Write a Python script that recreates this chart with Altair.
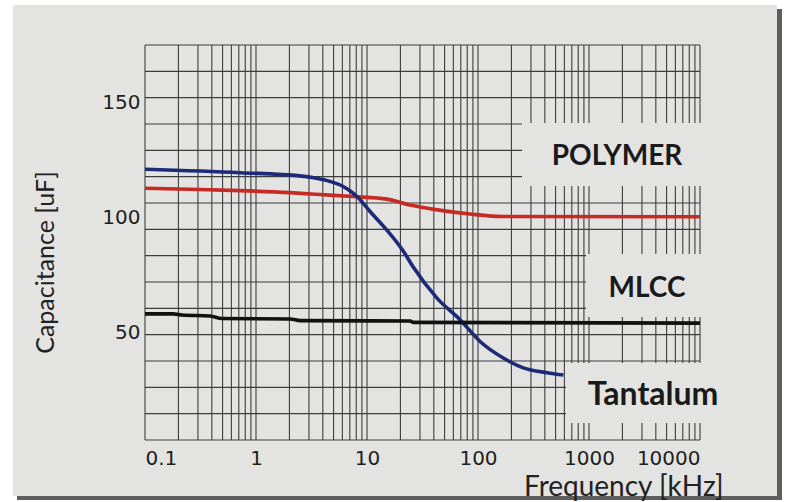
import altair as alt
import pandas as pd
import numpy as np

# ---- data ----
polymer_freq = [0.1, 0.31, 0.72, 2.03, 3.78, 7.5, 15.2, 24.5, 43, 85, 169, 10000]
polymer_cap = [112.6, 112.1, 111.6, 110.7, 109.9, 109.0, 107.9, 105.3, 103.2, 101.4, 100.3, 100.2]

tantalum_freq = [0.1, 0.72, 2.5, 3.41, 4.66, 5.98, 7.06, 8.16, 10.7, 15.1, 21.2, 26.1, 42.7, 69.2, 105, 169, 256, 419, 588]
tantalum_cap = [120.9, 119.4, 118.0, 117.1, 115.6, 113.6, 111.4, 108.9, 102.4, 94.4, 85.3, 78.3, 64.8, 55.3, 45.8, 38.7, 34.4, 32.3, 31.3]

mlcc_freq = [0.1, 0.179, 0.216, 0.385, 0.494, 2.03, 2.5, 24.5, 26.1, 10000]
mlcc_cap = [57.9, 57.9, 57.4, 57.0, 55.9, 55.7, 55.0, 54.8, 54.2, 53.9]

series_names = ["POLYMER", "Tantalum", "MLCC"]
series_colors = ["#c62a22", "#1c2a78", "#111111"]

x_ticks = [0.1, 1, 10, 100, 1000, 10000]
y_ticks = [50, 100, 150]
x_domain = [0.1, 10000]
y_domain = [3, 175]

# ---- tables ----
lines_df = pd.concat([
    pd.DataFrame({"freq": polymer_freq, "cap": polymer_cap, "series": "POLYMER"}),
    pd.DataFrame({"freq": tantalum_freq, "cap": tantalum_cap, "series": "Tantalum"}),
    pd.DataFrame({"freq": mlcc_freq, "cap": mlcc_cap, "series": "MLCC"}),
], ignore_index=True)

vgrid = [d * k for d in [0.1, 1, 10, 100, 1000] for k in range(1, 10)] + [10000]
hgrid = list(np.linspace(y_domain[0], y_domain[1], 16))
vgrid_df = pd.DataFrame({"freq": vgrid})
hgrid_df = pd.DataFrame({"cap": hgrid})
one = pd.DataFrame({"a": [0]})

PAPER = "#e3e3e1"
GRID = "#3d3d3d"

xs = alt.Scale(type="log", domain=x_domain, nice=False)
ys = alt.Scale(domain=y_domain, nice=False, zero=False)

x_axis = alt.Axis(values=x_ticks, format="~g", domain=False, ticks=False, grid=False,
                  labelFont="DejaVu Sans", labelFontSize=20, labelColor="#1e1e1e",
                  labelPadding=8, zindex=1,
                  title="Frequency [kHz]", titleFont="Lato", titleFontSize=28,
                  titleFontWeight="normal", titleColor="#222222",
                  titleAlign="right", titleBaseline="middle", titleX=578, titleY=47)
y_axis = alt.Axis(values=y_ticks, format="d", domain=False, ticks=False, grid=False,
                  labelFont="DejaVu Sans", labelFontSize=20, labelColor="#1e1e1e",
                  labelPadding=5, zindex=1,
                  title="Capacitance [uF]", titleFont="Lato", titleFontSize=25,
                  titleFontWeight="normal", titleColor="#222222",
                  titleAlign="center", titleBaseline="middle", titleX=-100, titleY=217)

shadow = alt.Chart(one).mark_rect(color="#5e5e5e").encode(
    x=alt.value(-128), x2=alt.value(637), y=alt.value(-36), y2=alt.value(455))
paper = alt.Chart(one).mark_rect(color=PAPER).encode(
    x=alt.value(-132), x2=alt.value(632), y=alt.value(-40), y2=alt.value(451))

hrules = alt.Chart(hgrid_df).mark_rule(color=GRID, strokeWidth=1.1).encode(
    y=alt.Y("cap:Q", scale=ys, axis=y_axis))
vrules = alt.Chart(vgrid_df).mark_rule(color=GRID, strokeWidth=1.1).encode(
    x=alt.X("freq:Q", scale=xs, axis=x_axis))

def gap(x1, x2, y1, y2):
    return alt.Chart(one).mark_rect(color=PAPER).encode(
        x=alt.value(x1), x2=alt.value(x2), y=alt.value(y1), y2=alt.value(y2))

gaps = [gap(377, 562, 78, 141), gap(441, 562, 209, 272), gap(421, 562, 318, 378)]

lines = alt.Chart(lines_df).mark_line(strokeWidth=3.6, interpolate="monotone").encode(
    x=alt.X("freq:Q", scale=xs, axis=x_axis),
    y=alt.Y("cap:Q", scale=ys, axis=y_axis),
    color=alt.Color("series:N", scale=alt.Scale(domain=series_names, range=series_colors), legend=None),
    detail="series:N",
)

def label(txt, x, y, size):
    return alt.Chart(one).mark_text(text=txt, font="Lato", fontSize=size, fontWeight="bold",
                                    color="#1a1a1a", align="center", baseline="middle").encode(
        x=alt.value(x), y=alt.value(y))

labels = [label("POLYMER", 472, 112, 28), label("MLCC", 502, 244, 28), label("Tantalum", 508, 350, 32)]

chart = alt.layer(shadow, paper, hrules, vrules, *gaps, lines, *labels).properties(
    width=555, height=395,
    autosize=alt.AutoSizeParams(type="none"),
    padding={"left": 145, "top": 45, "right": 85, "bottom": 62},
    background="#ffffff",
).configure_view(stroke=None)

chart.save("out.html", embed_options={"renderer": "svg", "actions": False})
